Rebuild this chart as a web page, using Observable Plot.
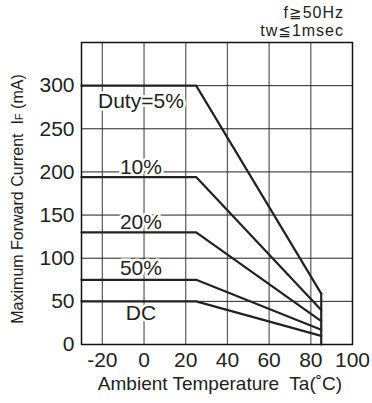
<!DOCTYPE html>
<html>
<head>
<meta charset="utf-8">
<script src="https://cdn.jsdelivr.net/npm/d3@7"></script>
<script src="https://cdn.jsdelivr.net/npm/@observablehq/plot@0.6"></script>
<style>
  html, body { margin: 0; padding: 0; background: #fff; }
  svg { display: block; }
</style>
</head>
<body>
<div id="chart"></div>
<script>
// Data
const series = ["Duty=5%", "10%", "20%", "50%", "DC"];
const temps = [-30, 25, 85];            // breakpoints (°C)
const flatCurrent = [300, 194, 130, 75, 50]; // mA up to 25°C
const endCurrent = [59, 40, 27, 17, 10];     // mA at 85°C
const labelX = [-1.5, -1.5, -1.5, -1.5, -1.5];
const labelY = [282, 205, 142, 88, 36];
const xTicks = [-20, 0, 20, 40, 60, 80, 100];
const yTicks = [0, 50, 100, 150, 200, 250, 300];
const xGrid = [-20, 0, 20, 40, 60, 80];
const yGrid = [50, 100, 150, 200, 250, 300];
const cutoffT = 85;

const lines = [];
series.forEach((s, i) => {
  lines.push({s, t: temps[0], v: flatCurrent[i]});
  lines.push({s, t: temps[1], v: flatCurrent[i]});
  lines.push({s, t: temps[2], v: endCurrent[i]});
});
const cutoff = [{t: cutoffT, v: 0}, {t: cutoffT, v: d3.max(endCurrent)}];
const labels = series.map((s, i) => ({s, x: labelX[i], y: labelY[i]}));

const font = "Liberation Sans, Arial, Helvetica, DejaVu Sans, sans-serif";

const plot = Plot.plot({
  width: 372,
  height: 403,
  marginLeft: 81,
  marginRight: 20,
  marginTop: 42,
  marginBottom: 59,
  style: {fontFamily: font, fontSize: "21px", color: "#222", background: "#fff"},
  x: {domain: [-30, 100], ticks: xTicks, tickSize: 0, tickPadding: 8, label: null, tickFormat: d => String(d)},
  y: {domain: [0, 350], ticks: yTicks, tickSize: 0, tickPadding: 7, label: null, tickFormat: d => String(d)},
  marks: [
    Plot.ruleX(xGrid, {stroke: "#666", strokeWidth: 1.3}),
    Plot.ruleY(yGrid, {stroke: "#222", strokeWidth: 1}),
    Plot.text(labels, {x: "x", y: "y", text: "s", fontSize: 21, fill: "#222", stroke: "white", strokeWidth: 5, paintOrder: "stroke"}),
    Plot.line(lines, {x: "t", y: "v", z: "s", stroke: "#222", strokeWidth: 2.2}),
    Plot.line(cutoff, {x: "t", y: "v", stroke: "#222", strokeWidth: 2.2}),
    Plot.frame({stroke: "#111", strokeWidth: 1.5})
  ]
});

document.getElementById("chart").appendChild(plot);
const svg = d3.select(plot);

// Axis titles and notes
svg.append("text")
  .attr("x", 220).attr("y", 390)
  .attr("text-anchor", "middle")
  .attr("font-family", font).attr("font-size", 19).attr("fill", "#222")
  .text("Ambient Temperature  Ta(˚C)");

const yl = svg.append("text")
  .attr("transform", "translate(23,199) rotate(-90)")
  .attr("text-anchor", "middle")
  .attr("font-family", font).attr("font-size", 16).attr("fill", "#222");
yl.append("tspan").text("Maximum Forward Current  I");
yl.append("tspan").attr("font-size", 11).text("F");
yl.append("tspan").text(" (mA)");

function note(y, parts) {
  const t = svg.append("text")
    .attr("x", 344).attr("y", y)
    .attr("text-anchor", "end")
    .attr("font-family", font).attr("font-size", 16).attr("letter-spacing", 1).attr("fill", "#222");
  parts.forEach(([s, fs]) => {
    const sp = t.append("tspan").text(s);
    if (fs) sp.attr("font-size", fs);
  });
}
note(18, [["f"], ["≧", 15], ["50Hz"]]);
note(36, [["tw"], ["≦", 15], ["1msec"]]);
</script>
</body>
</html>
